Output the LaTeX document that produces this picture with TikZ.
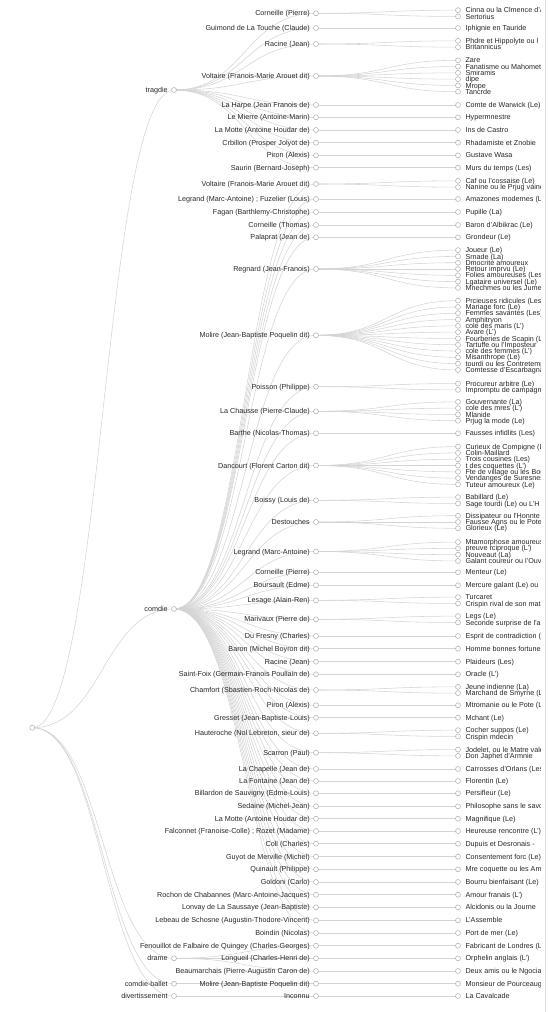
\documentclass[tikz,border=0pt]{standalone}
\usepackage{fontspec}
\setmainfont{Liberation Sans}
\usetikzlibrary{backgrounds}
\tikzset{
  dot/.style={circle,draw=black!30,fill=white,line width=0.55pt,minimum size=5pt,inner sep=0pt},
  link/.style={draw=black!17,line width=0.55pt},
  txt/.style={font=\fontsize{7.2}{8}\selectfont,text=black!85,text height=5.2pt,text depth=0pt},
  mlab/.style={txt,label distance=0pt},
  llab/.style={txt,label distance=1.2pt},
}
\newcommand\work[6]{%
  \node[dot,label={[mlab]left:{#4}}] (#2) at (316,#3) {};
  \begin{scope}[on background layer]
    \draw[link] (#1.center) .. controls +(71,0) and +(-71,0) .. (#2.center);
  \end{scope}
  \foreach \t [count=\i] in {#6} {%
    \pgfmathsetmacro\ly{#3+(\i-1-(#5-1)/2)*6.3}%
    \node[dot,label={[llab]right:\t}] (#2-\i) at (458,\ly) {};
    \begin{scope}[on background layer]
      \draw[link] (#2.center) .. controls +(71,0) and +(-71,0) .. (#2-\i.center);
    \end{scope}
  }%
}
\begin{document}
\begin{tikzpicture}[x=1pt,y=-1pt]
\useasboundingbox (0,0) rectangle (548,1012);
\draw[black!12,line width=0.6pt] (545,0) -- (545,1012);
\begin{scope}
\clip (0,0) rectangle (540,1012);
\node[dot] (root) at (32.3,727.7) {};
\node[dot,label={[mlab]left:tragdie}] (trag) at (174,90) {};
\node[dot,label={[mlab]left:comdie}] (com) at (174,609) {};
\node[dot,label={[mlab]left:drame}] (dr) at (174,958.3) {};
\node[dot,label={[mlab]left:comdie-ballet}] (cb) at (174,983.7) {};
\node[dot,label={[mlab]left:divertissement}] (dv) at (174,996) {};
\begin{scope}[on background layer]
\foreach \n in {trag,com,dr,cb,dv}
  \draw[link] (root.center) .. controls +(71,0) and +(-71,0) .. (\n.center);
\end{scope}
% tragedie
\work{trag}{t1}{13.3}{Corneille (Pierre)}{2}{Cinna ou la Clmence d'Auguste,Sertorius}
\work{trag}{t2}{28}{Guimond de La Touche (Claude)}{1}{Iphignie en Tauride}
\work{trag}{t3}{44}{Racine (Jean)}{2}{Phdre et Hippolyte ou l,Britannicus}
\work{trag}{t4}{76}{Voltaire (Franois-Marie Arouet dit)}{6}{Zare,Fanatisme ou Mahomet,Smiramis,dipe,Mrope,Tancrde}
\work{trag}{t5}{105}{La Harpe (Jean Franois de)}{1}{Comte de Warwick (Le)}
\work{trag}{t6}{117.3}{Le Mierre (Antoine-Marin)}{1}{Hypermnestre}
\work{trag}{t7}{130}{La Motte (Antoine Houdar de)}{1}{Ins de Castro}
\work{trag}{t8}{142.7}{Crbillon (Prosper Jolyot de)}{1}{Rhadamiste et Znobie}
\work{trag}{t9}{155.3}{Piron (Alexis)}{1}{Gustave Wasa}
\work{trag}{t10}{167.7}{Saurin (Bernard-Joseph)}{1}{Murs du temps (Les)}
% comedie
\work{com}{c1}{184}{Voltaire (Franois-Marie Arouet dit)}{2}{Caf ou l'cossaise (Le),Nanine ou le Prjug vaincu}
\work{com}{c2}{199}{Legrand (Marc-Antoine) ; Fuzelier (Louis)}{1}{Amazones modernes (Les)}
\work{com}{c3}{212}{Fagan (Barthlemy-Christophe)}{1}{Pupille (La)}
\work{com}{c4}{225}{Corneille (Thomas)}{1}{Baron d'Albikrac (Le)}
\work{com}{c5}{237.3}{Palaprat (Jean de)}{1}{Grondeur (Le)}
\work{com}{c6}{269}{Regnard (Jean-Franois)}{7}{Joueur (Le),Srnade (La),Dmocrite amoureux,Retour imprvu (Le),Folies amoureuses (Les),Lgataire universel (Le),Mnechmes ou les Jumeaux (Les)}
\work{com}{c7}{335.3}{Molire (Jean-Baptiste Poquelin dit)}{12}{Prcieuses ridicules (Les),Mariage forc (Le),Femmes savantes (Les),Amphitryon,cole des maris (L'),Avare (L'),Fourberies de Scapin (Les),Tartuffe ou l'Imposteur,cole des femmes (L'),Misanthrope (Le),tourdi ou les Contretemps (L'),Comtesse d'Escarbagnas (La)}
\work{com}{c8}{386.7}{Poisson (Philippe)}{2}{Procureur arbitre (Le),Impromptu de campagne (L')}
\work{com}{c9}{411.3}{La Chausse (Pierre-Claude)}{4}{Gouvernante (La),cole des mres (L'),Mlanide,Prjug la mode (Le)}
\work{com}{c10}{433.3}{Barthe (Nicolas-Thomas)}{1}{Fausses infidlits (Les)}
\work{com}{c11}{465.5}{Dancourt (Florent Carton dit)}{7}{Curieux de Compigne (Les),Colin-Maillard,Trois cousines (Les),t des coquettes (L'),Fte de village ou les Bourgeoises,Vendanges de Suresnes (Les),Tuteur amoureux (Le)}
\work{com}{c12}{500.3}{Boissy (Louis de)}{2}{Babillard (Le),Sage tourdi (Le) ou L'H}
\work{com}{c13}{522}{Destouches}{3}{Dissipateur ou l'Honnte,Fausse Agns ou le Pote,Glorieux (Le)}
\work{com}{c14}{551.5}{Legrand (Marc-Antoine)}{4}{Mtamorphose amoureuse,preuve rciproque (L'),Nouveaut (La),Galant coureur ou l'Ouvrage}
\work{com}{c15}{572.3}{Corneille (Pierre)}{1}{Menteur (Le)}
\work{com}{c16}{585.3}{Boursault (Edme)}{1}{Mercure galant (Le) ou}
\work{com}{c17}{600.3}{Lesage (Alain-Ren)}{2}{Turcaret,Crispin rival de son matre}
\work{com}{c18}{619.3}{Marivaux (Pierre de)}{2}{Legs (Le),Seconde surprise de l'amour}
\work{com}{c19}{636}{Du Fresny (Charles)}{1}{Esprit de contradiction (L')}
\work{com}{c20}{648.7}{Baron (Michel Boyron dit)}{1}{Homme bonnes fortunes (L')}
\work{com}{c21}{661.7}{Racine (Jean)}{1}{Plaideurs (Les)}
\work{com}{c22}{674.3}{Saint-Foix (Germain-Franois Poullain de)}{1}{Oracle (L')}
\work{com}{c23}{690}{Chamfort (Sbastien-Roch-Nicolas de)}{2}{Jeune indienne (La),Marchand de Smyrne (Le)}
\work{com}{c24}{705.3}{Piron (Alexis)}{1}{Mtromanie ou le Pote (La)}
\work{com}{c25}{717.7}{Gresset (Jean-Baptiste-Louis)}{1}{Mchant (Le)}
\work{com}{c26}{733.3}{Hauteroche (Nol Lebreton, sieur de)}{2}{Cocher suppos (Le),Crispin mdecin}
\work{com}{c27}{752.7}{Scarron (Paul)}{2}{{Jodelet, ou le Matre valet},Don Japhet d'Armnie}
\work{com}{c28}{769}{La Chapelle (Jean de)}{1}{Carrosses d'Orlans (Les)}
\work{com}{c29}{781}{La Fontaine (Jean de)}{1}{Florentin (Le)}
\work{com}{c30}{793.3}{Billardon de Sauvigny (Edme-Louis)}{1}{Persifleur (Le)}
\work{com}{c31}{806.3}{Sedaine (Michel-Jean)}{1}{Philosophe sans le savoir (Le)}
\work{com}{c32}{818.7}{La Motte (Antoine Houdar de)}{1}{Magnifique (Le)}
\work{com}{c33}{831}{Falconnet (Franoise-Colle) ; Rozet (Madame)}{1}{Heureuse rencontre (L')}
\work{com}{c34}{843.7}{Coll (Charles)}{1}{Dupuis et Desronais -}
\work{com}{c35}{856.7}{Guyot de Merville (Michel)}{1}{Consentement forc (Le)}
\work{com}{c36}{869.3}{Quinault (Philippe)}{1}{Mre coquette ou les Amants}
\work{com}{c37}{882}{Goldoni (Carlo)}{1}{Bourru bienfaisant (Le)}
\work{com}{c38}{894.7}{Rochon de Chabannes (Marc-Antoine-Jacques)}{1}{Amour franais (L')}
\work{com}{c39}{907.3}{Lonvay de La Saussaye (Jean-Baptiste)}{1}{Alcidonis ou la Journe}
\work{com}{c40}{920.3}{Lebeau de Schosne (Augustin-Thodore-Vincent)}{1}{L'Assemble}
\work{com}{c41}{933}{Boindin (Nicolas)}{1}{Port de mer (Le)}
% drame
\work{dr}{d1}{945.7}{Fenouillot de Falbaire de Quingey (Charles-Georges)}{1}{Fabricant de Londres (Le)}
\work{dr}{d2}{958.3}{Longueil (Charles-Henri de)}{1}{Orphelin anglais (L')}
\work{dr}{d3}{971}{Beaumarchais (Pierre-Augustin Caron de)}{1}{Deux amis ou le Ngociant}
% comedie-ballet, divertissement
\work{cb}{b1}{983.7}{Molire (Jean-Baptiste Poquelin dit)}{1}{Monsieur de Pourceaugnac}
\work{dv}{v1}{996}{Inconnu}{1}{La Cavalcade}
\end{scope}
\end{tikzpicture}
\end{document}
